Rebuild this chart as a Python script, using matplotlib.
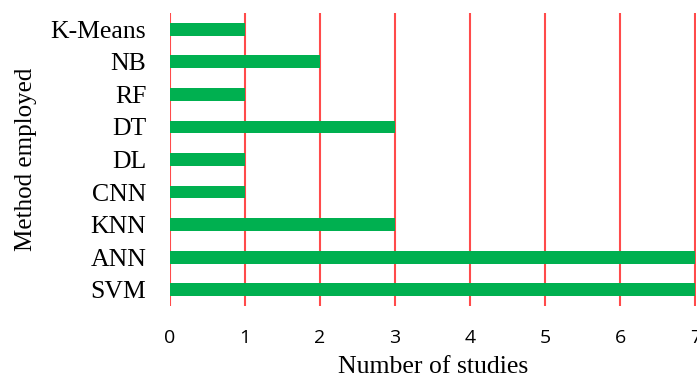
import numpy as np
from matplotlib import pyplot as plt

methods = ["SVM", "ANN", "KNN", "CNN", "DL", "DT", "RF", "NB", "K-Means"]
studies = [7, 7, 3, 1, 1, 3, 1, 2, 1]
xticks = [0, 1, 2, 3, 4, 5, 6, 7]


def main():
	fig = plt.figure(figsize=(6.97, 3.78), dpi=100)
	ax = fig.add_axes([170 / 697, 1 - 306 / 378, 526 / 697, 293 / 378])
	y = np.arange(len(methods))
	ax.barh(y, studies, height=0.39, color="#00B050", zorder=3)
	ax.set_ylim(-0.5, len(methods) - 0.5)
	ax.set_xlim(0, 7.01)
	ax.set_xticks(xticks)
	ax.set_xticklabels([str(t) for t in xticks], fontfamily="Open Sans", fontsize=14)
	ax.set_yticks(y)
	ax.set_yticklabels(methods, fontfamily="Liberation Serif", fontsize=18.5)
	ax.tick_params(axis="y", length=0, pad=17)
	ax.tick_params(axis="x", length=0, pad=16.5)
	for s in ax.spines.values():
		s.set_visible(False)
	ax.grid(axis="x", color="#FF4B4B", linewidth=1.5, zorder=0)
	ax.set_xlabel("Number of studies", fontfamily="Liberation Serif", fontsize=18.5, labelpad=6.5)
	ax.set_ylabel("Method employed", fontfamily="Liberation Serif", fontsize=18, labelpad=10)
	fig.savefig("out.png")


if __name__ == "__main__":
	main()
